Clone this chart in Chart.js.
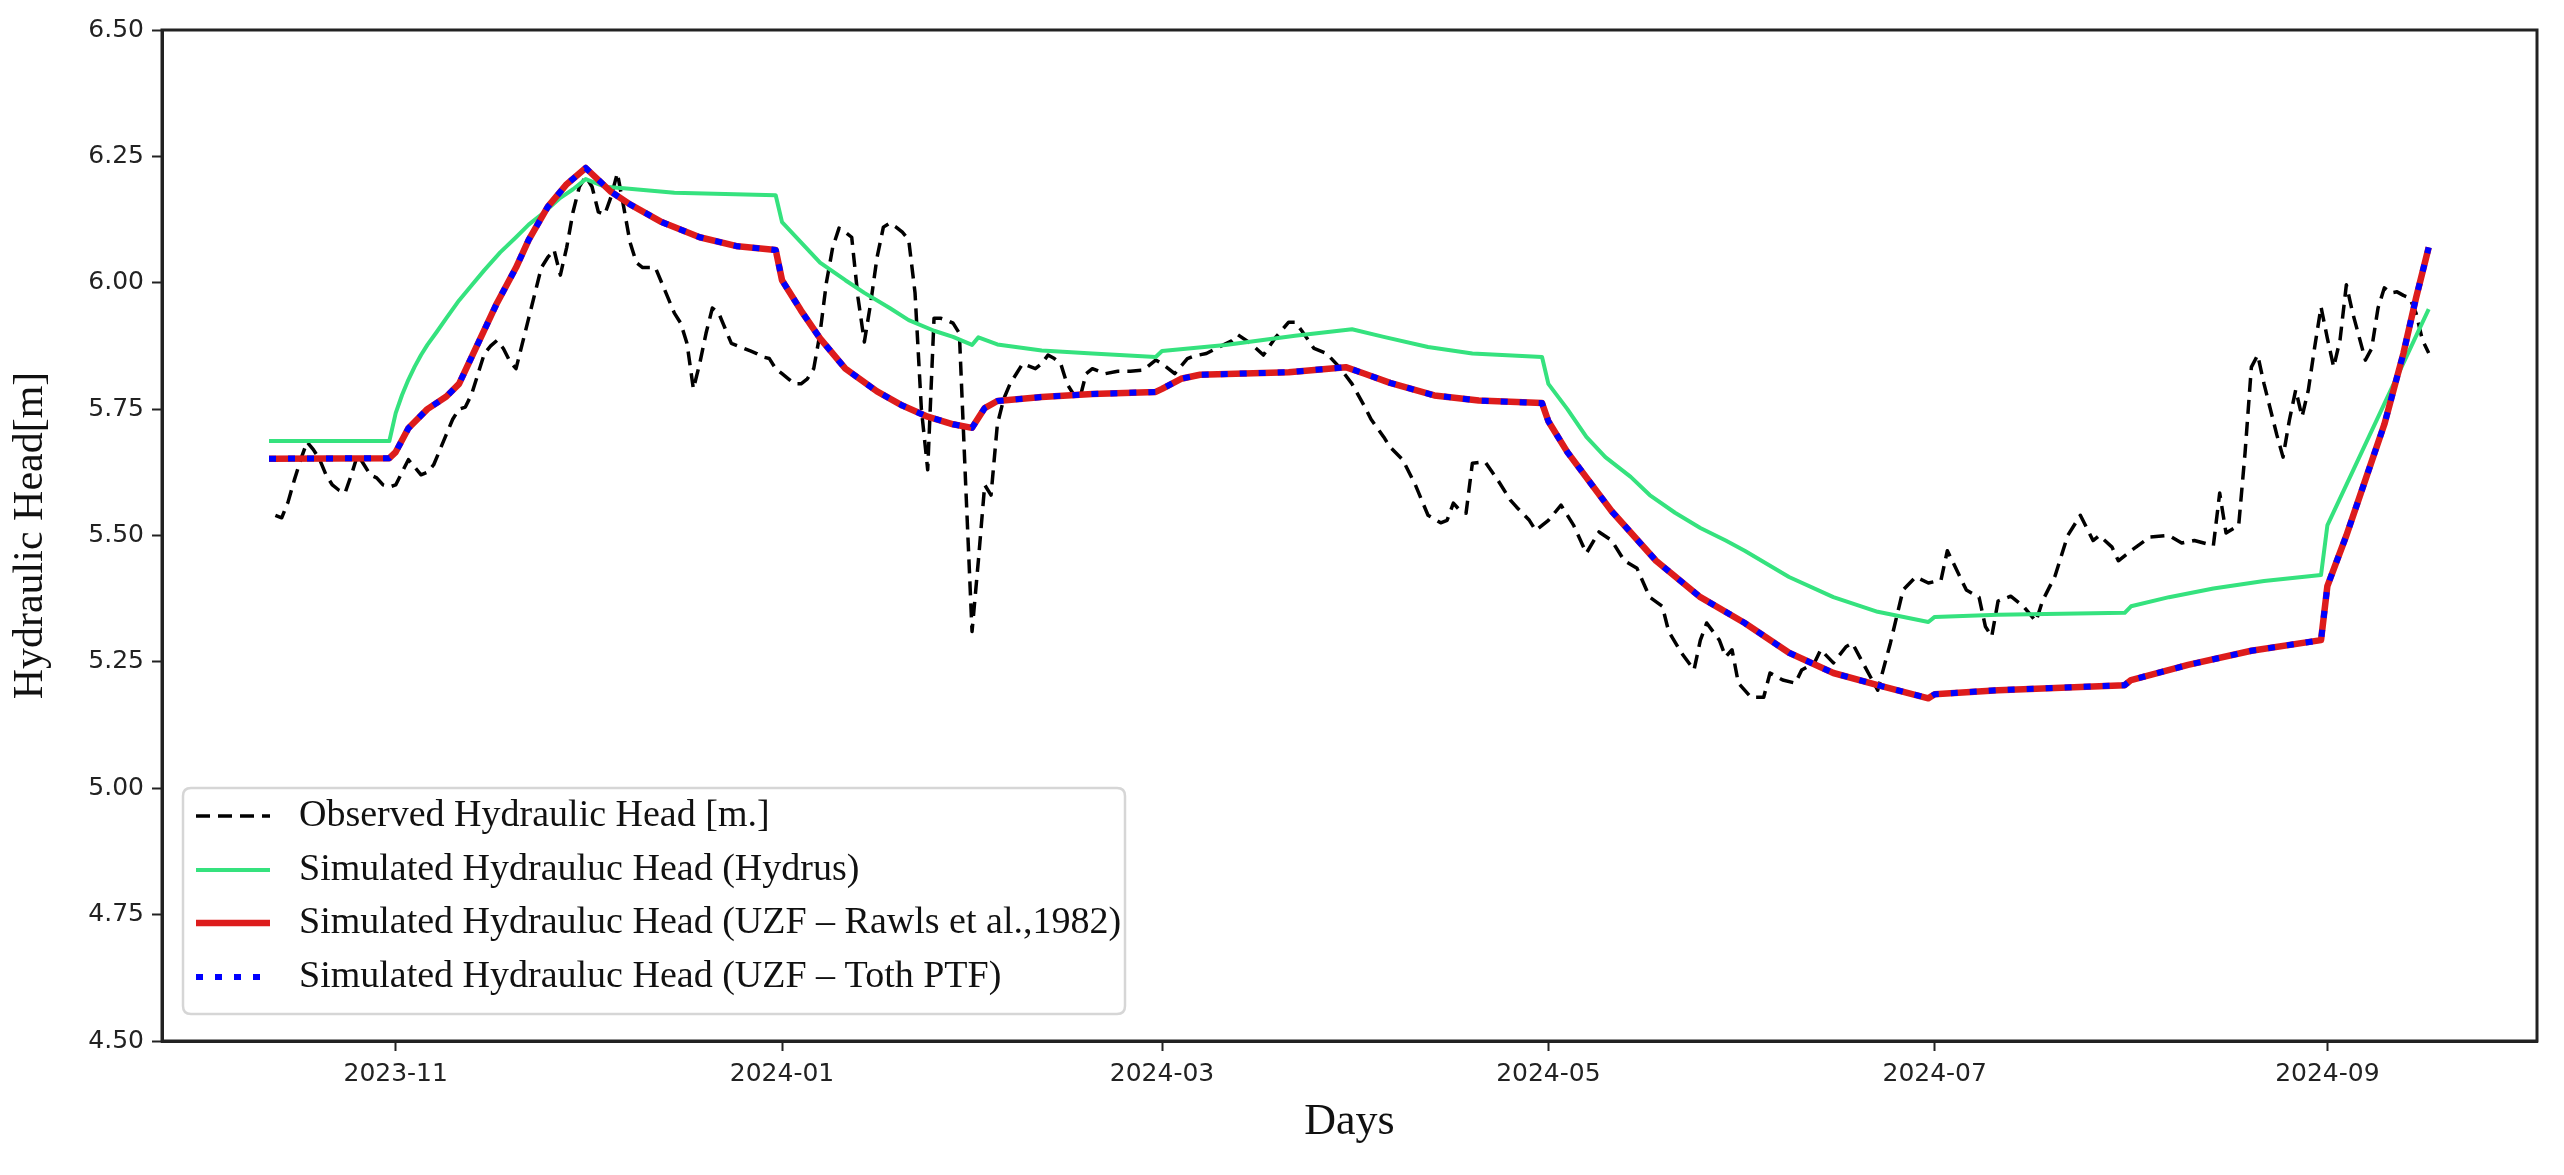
<!DOCTYPE html>
<html><head><meta charset="utf-8">
<script src="https://cdn.jsdelivr.net/npm/chart.js@4.4.1/dist/chart.umd.min.js"></script>
<style>html,body{margin:0;padding:0;background:#fff;} #wrap{width:2564px;height:1175px;position:relative;}</style>
</head><body><div id="wrap"><canvas id="c"></canvas></div>
<script>
// x values are days counted from 2023-11-01 (day 0)
const xTickDays = [0, 61, 121, 182, 243, 305];
const xTickLabels = ['2023-11', '2024-01', '2024-03', '2024-05', '2024-07', '2024-09'];

const obsDays = [-19,-18,-17,-16,-15,-14,-13,-12,-11,-10,-9,-8,-7,-6,-5,-4,-3,-2,-1,0,1,2,3,4,5,6,7,8,9,10,11,12,13,14,15,16,17,18,19,20,21,22,23,24,25,26,27,28,29,30,31,32,33,34,35,36,37,38,39,40,41,42,43,44,45,46,47,48,49,50,51,52,53,54,55,56,57,58,59,60,61,62,63,64,65,66,67,68,69,70,71,72,73,74,75,76,77,78,79,80,81,82,83,84,85,86,87,88,89,90,91,92,93,94,95,96,97,98,99,100,101,102,103,104,105,106,107,108,109,110,112,114,116,118,120,121,122,123,124,125,126,128,130,132,133,135,137,139,141,142,143,145,147,149,151,153,154,156,157,159,161,163,165,166,167,168,169,170,172,174,176,177,179,180,182,184,186,188,190,192,194,196,198,200,201,203,205,206,207,209,210,211,212,214,216,217,219,221,222,224,225,227,229,230,232,234,236,238,240,242,244,245,247,248,250,251,252,253,255,257,259,260,262,264,266,268,269,271,272,274,277,280,282,284,287,288,289,291,292,293,294,295,297,298,299,300,301,302,303,304,305,306,307,308,309,311,312,313,314,315,316,317,318,319,320,321];
const obsHead = [5.54,5.535,5.566,5.61,5.65,5.685,5.67,5.65,5.62,5.60,5.59,5.584,5.62,5.66,5.64,5.62,5.614,5.60,5.596,5.60,5.625,5.65,5.635,5.62,5.625,5.64,5.67,5.70,5.73,5.75,5.754,5.78,5.82,5.86,5.875,5.886,5.87,5.845,5.83,5.88,5.93,5.98,6.03,6.05,6.065,6.015,6.07,6.14,6.19,6.21,6.19,6.14,6.135,6.17,6.217,6.15,6.08,6.04,6.03,6.03,6.03,6.00,5.97,5.94,5.92,5.88,5.79,5.84,5.90,5.95,5.94,5.91,5.88,5.875,5.87,5.865,5.86,5.853,5.85,5.83,5.82,5.81,5.80,5.80,5.81,5.83,5.90,6.00,6.07,6.108,6.10,6.09,5.97,5.883,5.96,6.05,6.11,6.118,6.11,6.10,6.085,5.98,5.75,5.63,5.93,5.93,5.926,5.92,5.90,5.60,5.31,5.45,5.60,5.58,5.72,5.77,5.80,5.82,5.84,5.835,5.83,5.84,5.857,5.85,5.84,5.80,5.78,5.77,5.82,5.83,5.82,5.825,5.825,5.827,5.847,5.84,5.83,5.82,5.835,5.85,5.855,5.86,5.873,5.885,5.897,5.88,5.857,5.893,5.922,5.922,5.906,5.87,5.86,5.833,5.80,5.755,5.73,5.695,5.675,5.65,5.60,5.54,5.525,5.53,5.564,5.55,5.544,5.643,5.646,5.61,5.57,5.556,5.53,5.51,5.53,5.56,5.52,5.465,5.507,5.49,5.45,5.435,5.378,5.36,5.31,5.268,5.234,5.293,5.327,5.293,5.26,5.274,5.208,5.18,5.18,5.228,5.214,5.208,5.234,5.248,5.274,5.248,5.28,5.287,5.24,5.194,5.287,5.392,5.418,5.406,5.412,5.47,5.418,5.392,5.378,5.32,5.30,5.37,5.38,5.36,5.33,5.37,5.42,5.50,5.54,5.49,5.50,5.477,5.45,5.47,5.497,5.50,5.485,5.49,5.48,5.584,5.505,5.52,5.663,5.833,5.857,5.80,5.70,5.655,5.728,5.788,5.735,5.788,5.873,5.952,5.89,5.833,5.887,5.996,5.94,5.847,5.87,5.95,5.99,5.98,5.982,5.975,5.97,5.94,5.887,5.861];

const hydrusDays = [-20,-1,0,1,2,3,4,5,6.5,8,10,12,14,16.5,19,21,23.5,26,28,30,33,36,44,60,61,64,67,71,74,78,81,85,88,91,92,95,102,110,120,121,131,142,151,156,163,170,181,182,185,188,191,195,198,202,206,210,213,220,227,234,242,243,253,273,274,280,287,295,304,305,321];
const hydrusHead = [5.687,5.687,5.742,5.778,5.808,5.834,5.857,5.877,5.903,5.93,5.965,5.995,6.025,6.06,6.09,6.115,6.14,6.168,6.185,6.205,6.19,6.187,6.178,6.173,6.12,6.08,6.04,6.005,5.98,5.95,5.926,5.905,5.893,5.877,5.892,5.878,5.866,5.86,5.853,5.865,5.877,5.895,5.908,5.893,5.873,5.86,5.853,5.80,5.75,5.695,5.655,5.616,5.58,5.545,5.515,5.49,5.47,5.418,5.378,5.349,5.329,5.339,5.343,5.347,5.36,5.378,5.395,5.41,5.422,5.52,5.948];

const rawlsDays = [-20,-1,0,2,5,8,10,13,16,19,21,24,27,30,34,37,42,48,54,60,61,64,67,71,76,80,84,88,91,93,95,102,110,120,121,124,127,141,150,153,157,164,171,181,182,185,192,199,206,213,220,227,234,242,243,253,273,274,283,293,304,305,308,311,314,317,319,321];
const rawlsHead = [5.652,5.653,5.665,5.712,5.75,5.775,5.80,5.88,5.96,6.03,6.085,6.15,6.195,6.227,6.18,6.155,6.12,6.09,6.072,6.065,6.005,5.945,5.89,5.83,5.785,5.757,5.735,5.72,5.713,5.752,5.766,5.774,5.78,5.784,5.79,5.81,5.818,5.823,5.833,5.82,5.802,5.777,5.767,5.762,5.726,5.665,5.548,5.45,5.378,5.327,5.268,5.228,5.204,5.178,5.186,5.194,5.204,5.214,5.244,5.272,5.293,5.40,5.50,5.61,5.72,5.86,5.97,6.07];

const tothDays = [-20,-1,0,2,5,8,10,13,16,19,21,24,27,30,34,37,42,48,54,60,61,64,67,71,76,80,84,88,91,93,95,102,110,120,121,124,127,141,150,153,157,164,171,181,182,185,192,199,206,213,220,227,234,242,243,253,273,274,283,293,304,305,308,311,314,317,319,321];
const tothHead = [5.652,5.653,5.665,5.712,5.75,5.775,5.80,5.88,5.96,6.03,6.085,6.15,6.195,6.227,6.18,6.155,6.12,6.09,6.072,6.065,6.005,5.945,5.89,5.83,5.785,5.757,5.735,5.72,5.713,5.752,5.766,5.774,5.78,5.784,5.79,5.81,5.818,5.823,5.833,5.82,5.802,5.777,5.767,5.762,5.726,5.665,5.548,5.45,5.378,5.327,5.268,5.228,5.204,5.178,5.186,5.194,5.204,5.214,5.244,5.272,5.293,5.40,5.50,5.61,5.72,5.86,5.97,6.07];

const seriesLabels = [
  'Observed Hydraulic Head [m.]',
  'Simulated Hydrauluc Head (Hydrus)',
  'Simulated Hydrauluc Head (UZF \u2013 Rawls et al.,1982)',
  'Simulated Hydrauluc Head (UZF \u2013 Toth PTF)'
];

const zip = (xs, ys) => xs.map((x, i) => ({x: x, y: ys[i]}));

const SERIF = '"Liberation Serif", "DejaVu Serif", serif';
const SANS = '"DejaVu Sans", sans-serif';

const framePlugin = {
  id: 'frame',
  afterDraw(chart) {
    const a = chart.chartArea, ctx = chart.ctx;
    ctx.save();
    ctx.strokeStyle = '#222';
    ctx.lineWidth = 3;
    ctx.strokeRect(a.left, a.top, a.right - a.left, a.bottom - a.top);
    ctx.restore();
  }
};

const legendPlugin = {
  id: 'boxLegend',
  afterDraw(chart) {
    const ctx = chart.ctx;
    const bx = 183, by = 788, bw = 942, bh = 226, r = 8;
    ctx.save();
    ctx.beginPath();
    ctx.moveTo(bx + r, by);
    ctx.lineTo(bx + bw - r, by); ctx.quadraticCurveTo(bx + bw, by, bx + bw, by + r);
    ctx.lineTo(bx + bw, by + bh - r); ctx.quadraticCurveTo(bx + bw, by + bh, bx + bw - r, by + bh);
    ctx.lineTo(bx + r, by + bh); ctx.quadraticCurveTo(bx, by + bh, bx, by + bh - r);
    ctx.lineTo(bx, by + r); ctx.quadraticCurveTo(bx, by, bx + r, by);
    ctx.closePath();
    ctx.fillStyle = 'rgba(255,255,255,0.85)';
    ctx.fill();
    ctx.strokeStyle = '#d6d6d6';
    ctx.lineWidth = 2.5;
    ctx.stroke();
    const rows = [816, 870, 923, 977];
    chart.data.datasets.forEach((ds, i) => {
      const y = rows[i];
      ctx.beginPath();
      ctx.setLineDash(ds.borderDash || []);
      ctx.lineCap = 'butt';
      ctx.strokeStyle = ds.borderColor;
      ctx.lineWidth = ds.borderWidth;
      ctx.moveTo(196, y); ctx.lineTo(270, y);
      ctx.stroke();
      ctx.setLineDash([]);
      ctx.fillStyle = '#111';
      ctx.font = '38px ' + SERIF;
      ctx.textBaseline = 'middle';
      ctx.textAlign = 'left';
      ctx.fillText(ds.label, 299, y);
    });
    ctx.restore();
  }
};

new Chart(document.getElementById('c'), {
  type: 'line',
  data: {
    datasets: [
      { label: seriesLabels[0], data: zip(obsDays, obsHead), borderColor: '#000000', borderWidth: 3.5, borderDash: [14, 8], order: 4 },
      { label: seriesLabels[1], data: zip(hydrusDays, hydrusHead), borderColor: '#35E27E', borderWidth: 4, order: 3 },
      { label: seriesLabels[2], data: zip(rawlsDays, rawlsHead), borderColor: '#DD1C1C', borderWidth: 6.5, order: 2 },
      { label: seriesLabels[3], data: zip(tothDays, tothHead), borderColor: '#0000FF', borderWidth: 6, borderDash: [7, 12], order: 1 }
    ]
  },
  options: {
    responsive: true,
    maintainAspectRatio: false,
    devicePixelRatio: 1,
    animation: false,
    events: [],
    elements: { point: { radius: 0 }, line: { tension: 0, fill: false, borderCapStyle: 'butt', borderJoinStyle: 'round' } },
    layout: { padding: { top: 30, right: 27, left: 0, bottom: 0 } },
    plugins: { legend: { display: false }, tooltip: { enabled: false } },
    scales: {
      x: {
        type: 'linear',
        min: -36.9,
        max: 338.1,
        afterFit: (s) => { s.height = 134; },
        afterBuildTicks: (s) => { s.ticks = xTickDays.map(v => ({ value: v })); },
        ticks: {
          autoSkip: false, maxRotation: 0, padding: 8, color: '#222',
          font: { family: SANS, size: 25 },
          callback: (v) => { const i = xTickDays.indexOf(v); return i >= 0 ? xTickLabels[i] : ''; }
        },
        grid: { display: true, drawOnChartArea: false, drawTicks: true, tickLength: 10, tickColor: '#222', tickWidth: 2 },
        border: { display: true, color: '#222', width: 3 },
        title: { display: true, text: 'Days', color: '#111', font: { family: SERIF, size: 44 }, padding: { top: 0, bottom: 26 } }
      },
      y: {
        min: 4.5,
        max: 6.5,
        afterFit: (s) => { s.width = 162; },
        ticks: {
          stepSize: 0.25, padding: 8, color: '#222',
          font: { family: SANS, size: 25 },
          callback: (v) => Number(v).toFixed(2)
        },
        grid: { display: true, drawOnChartArea: false, drawTicks: true, tickLength: 10, tickColor: '#222', tickWidth: 2 },
        border: { display: true, color: '#222', width: 3 },
        title: { display: true, text: 'Hydraulic Head[m]', color: '#111', font: { family: SERIF, size: 42 }, padding: { top: 6, bottom: 0 } }
      }
    }
  },
  plugins: [framePlugin, legendPlugin]
});
</script></body></html>
